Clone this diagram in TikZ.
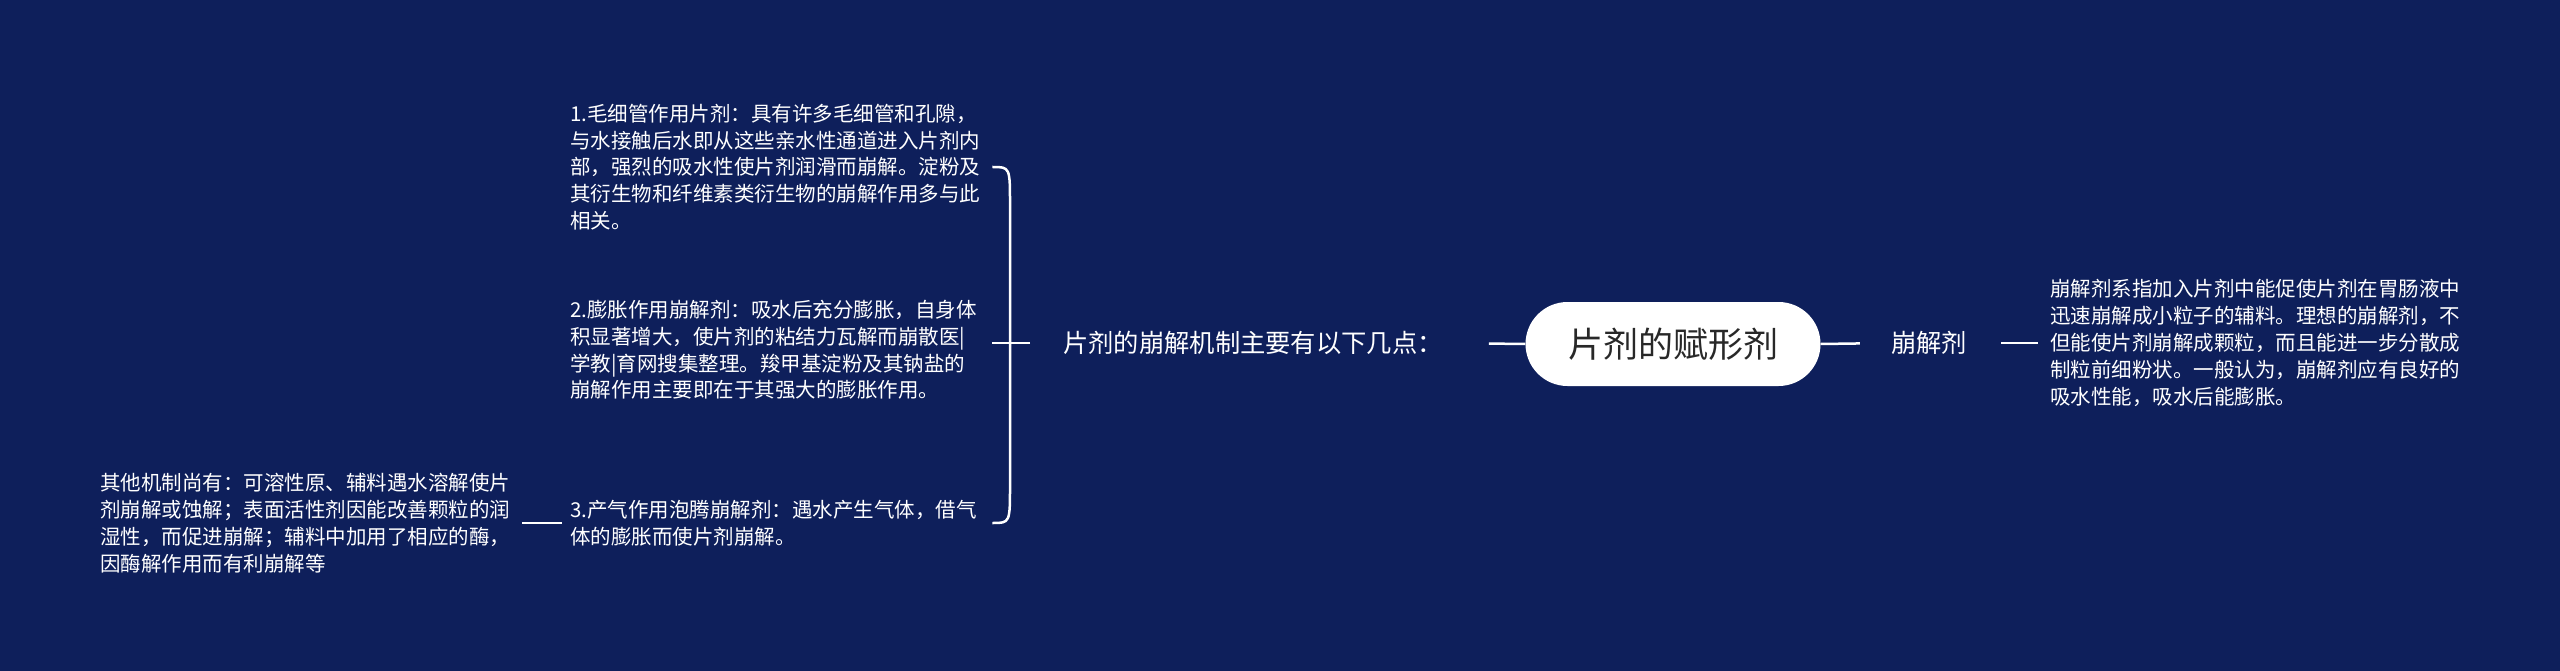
\documentclass[tikz,border=0pt]{standalone}
\usepackage{fontspec}
\setmainfont{Noto Sans CJK SC}
\usepackage{xcolor}
\definecolor{fondo}{RGB}{14,31,91}
\definecolor{letra}{RGB}{40,40,40}

\begin{document}
\begin{tikzpicture}[x=1pt, y=1pt,
	texto/.style={text=white, inner sep=0pt, align=left, text width=412pt, anchor=west, font=\fontsize{20.5}{26.8}\selectfont},
	rama/.style={text=white, inner sep=0pt, font=\fontsize{25.3}{30}\selectfont},
	raiz/.style={rectangle, rounded corners=42pt, fill=white, text=letra, minimum width=295pt, minimum height=84pt, inner sep=0pt, font=\fontsize{35}{40}\selectfont},
	linea/.style={draw=white, line width=2.5pt}]
				\fill[fondo] (0,0) rectangle (2560,-671);
				\useasboundingbox (0,0) rectangle (2560,-671);
				
				%%% CENTRO
				\node[raiz] (centro) at (1673,-344) {片剂的赋形剂};
				
				%%% RAMA DERECHA
				\node[rama] (bengjie) at (1929,-343) {崩解剂};
				\node[texto] (def) at (2050,-343) {崩解剂系指加入片剂中能促使片剂在胃肠液中\\迅速崩解成小粒子的辅料。理想的崩解剂，不\\但能使片剂崩解成颗粒，而且能进一步分散成\\制粒前细粉状。一般认为，崩解剂应有良好的\\吸水性能，吸水后能膨胀。};
				
				%%% RAMA IZQUIERDA
				\node[rama] (mecan) at (1253,-343) {片剂的崩解机制主要有以下几点：};
				\node[texto] (p1) at (570,-167) {1.毛细管作用片剂：具有许多毛细管和孔隙，\\与水接触后水即从这些亲水性通道进入片剂内\\部，强烈的吸水性使片剂润滑而崩解。淀粉及\\其衍生物和纤维素类衍生物的崩解作用多与此\\相关。};
				\node[texto] (p2) at (570,-350) {2.膨胀作用崩解剂：吸水后充分膨胀，自身体\\积显著增大，使片剂的粘结力瓦解而崩散医|\\学教|育网搜集整理。羧甲基淀粉及其钠盐的\\崩解作用主要即在于其强大的膨胀作用。};
				\node[texto] (p3) at (570,-523) {3.产气作用泡腾崩解剂：遇水产生气体，借气\\体的膨胀而使片剂崩解。};
				\node[texto] (otros) at (100,-523) {其他机制尚有：可溶性原、辅料遇水溶解使片\\剂崩解或蚀解；表面活性剂因能改善颗粒的润\\湿性，而促进崩解；辅料中加用了相应的酶，\\因酶解作用而有利崩解等};
				
				%%% CONEXIONES
				\draw[linea, shorten >=46pt] (centro.west) -- (mecan.east);
				\draw[linea, shorten >=31pt] (centro.east) -- (bengjie.west);
				\draw[linea, shorten <=34pt, shorten >=12pt] (bengjie.east) -- (def.west);
				\draw[linea, shorten <=33pt] (mecan.west) -- ([xshift=10pt]p2.east |- mecan.west);
				\draw[linea] ([xshift=10pt]p1.east) .. controls (1010,-167) .. (1010,-205) -- (1010,-485) .. controls (1010,-523) .. ([xshift=10pt]p3.east);
				\draw[linea, shorten <=10pt, shorten >=8pt] (otros.east) -- (p3.west);
			\end{tikzpicture}
\end{document}
